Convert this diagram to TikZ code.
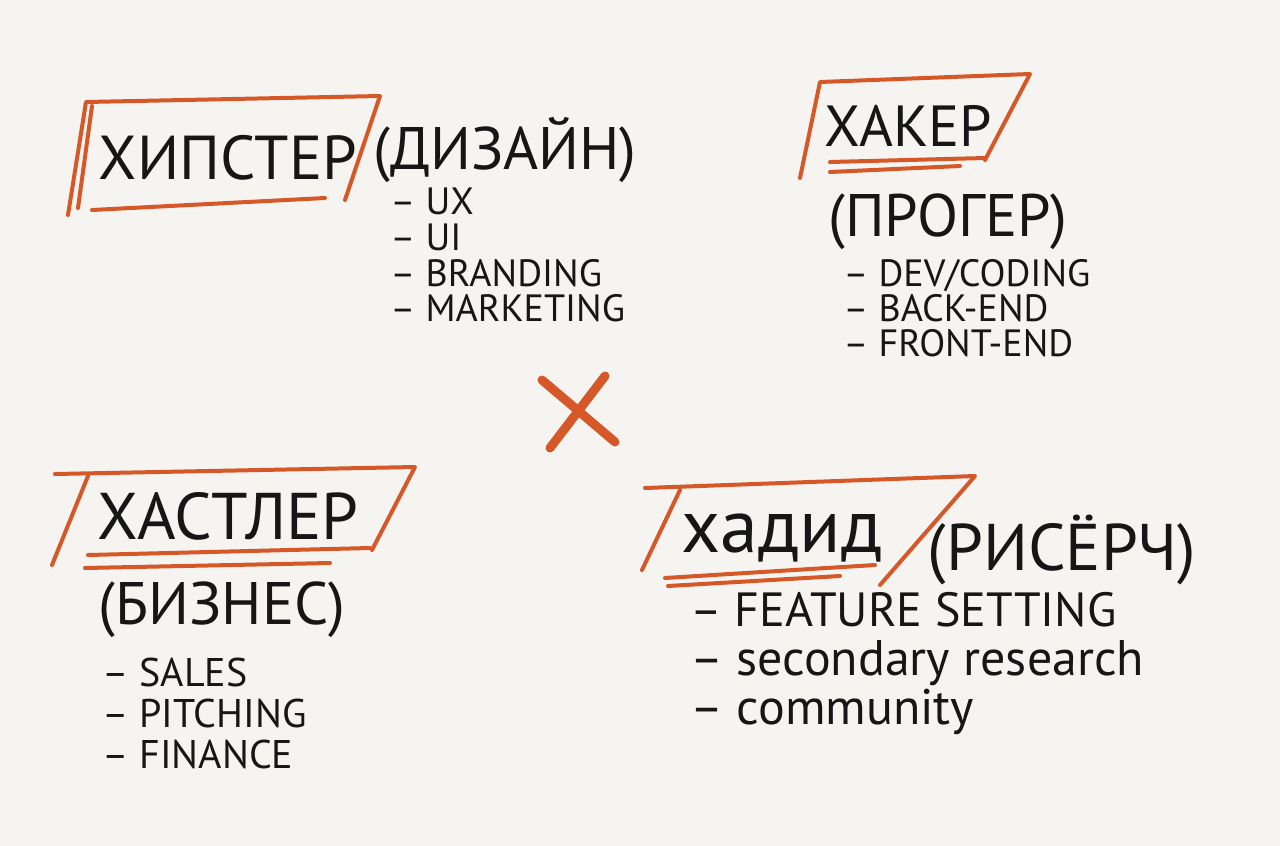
\documentclass[tikz,border=0pt]{standalone}
\usepackage{fontspec}
\setmainfont{PT Sans}
\usetikzlibrary{positioning}
\definecolor{sketchbg}{RGB}{245,244,241}
\definecolor{sketchred}{RGB}{214,88,40}
\definecolor{sketchink}{RGB}{22,22,22}
\tikzset{
  frame/.style={draw=sketchred, line width=2pt, line cap=round, line join=round},
  title/.style={text=sketchink, font=\fontsize{31}{34}\selectfont, inner sep=0pt},
  sub/.style={text=sketchink, font=\fontsize{30}{34}\selectfont, inner sep=0pt},
  item/.style={text=sketchink, font=\fontsize{19}{21}\selectfont, inner sep=0pt, text height=13pt, text depth=0pt},
  bigitem/.style={item, font=\fontsize{24}{27}\selectfont, text height=18pt, text depth=5pt}
}

\begin{document}
\begin{tikzpicture}[x=0.5pt, y=-0.5pt]
                \fill[sketchbg] (0,0) rectangle (1280,846);
                \useasboundingbox (0,0) rectangle (1280,846);
                % hipster
                \draw[frame] (68,215) -- (86,102) -- (380,96) -- (345,200);
                \draw[frame] (78,208) -- (92,106);
                \draw[frame] (92,210) -- (325,198);
                \node[title] (hip) at (228,158) {ХИПСТЕР};
                \node[sub] (hipsub) at (505,150) {(ДИЗАЙН)};
                \node[item, anchor=north west] (ux) at (390,188) {– UX};
                \node[item, below=4.5pt of ux.south west, anchor=north west] (ui) {– UI};
                \node[item, below=4.5pt of ui.south west, anchor=north west] (brand) {– BRANDING};
                \node[item, below=4.5pt of brand.south west, anchor=north west] (mark) {– MARKETING};
                % hacker
                \draw[frame] (800,178) -- (820,82) -- (1030,74) -- (985,160);
                \draw[frame] (830,162) -- (985,158);
                \draw[frame] (830,172) -- (960,166);
                \node[title, font=\fontsize{29}{32}\selectfont] (hack) at (908,126) {ХАКЕР};
                \node[sub] (hacksub) at (948,222) {(ПРОГЕР)};
                \node[item, anchor=north west] (dev) at (843,260) {– DEV/CODING};
                \node[item, below=4pt of dev.south west, anchor=north west] (back) {– BACK-END};
                \node[item, below=4pt of back.south west, anchor=north west] (front) {– FRONT-END};
                % cross
                \draw[sketchred, line width=4.5pt, line cap=round] (542,380) -- (615,442);
                \draw[sketchred, line width=4.5pt, line cap=round] (605,376) -- (550,448);
                % hustler
                \draw[frame] (52,565) -- (88,476);
                \draw[frame] (55,474) -- (415,467) -- (372,550);
                \draw[frame] (88,555) -- (370,548);
                \draw[frame] (85,568) -- (330,563);
                \node[title, font=\fontsize{33}{36}\selectfont] (hust) at (228,516) {ХАСТЛЕР};
                \node[sub] (hustsub) at (222,610) {(БИЗНЕС)};
                \node[item, font=\fontsize{20}{22}\selectfont, text height=14pt, anchor=north west] (sales) at (102,658) {– SALES};
                \node[item, font=\fontsize{20}{22}\selectfont, text height=14pt, below=6pt of sales.south west, anchor=north west] (pitch) {– PITCHING};
                \node[item, font=\fontsize{20}{22}\selectfont, text height=14pt, below=6pt of pitch.south west, anchor=north west] (fin) {– FINANCE};
                % hadid
                \draw[frame] (642,570) -- (680,490);
                \draw[frame] (645,488) -- (975,476) -- (880,585);
                \draw[frame] (665,578) -- (875,565);
                \draw[frame] (668,586) -- (840,576);
                \node[title, font=\fontsize{38}{42}\selectfont] (had) at (782,538) {хадид};
                \node[sub, font=\fontsize{33}{37}\selectfont] (hadsub) at (1062,550) {(РИСЁРЧ)};
                \node[bigitem, anchor=north west] (feat) at (690,590) {– FEATURE SETTING};
                \node[bigitem, font=\fontsize{25}{28}\selectfont, below=1pt of feat.south west, anchor=north west] (second) {– secondary research};
                \node[bigitem, font=\fontsize{25}{28}\selectfont, below=1pt of second.south west, anchor=north west] (comm) {– community};
            \end{tikzpicture}
\end{document}
